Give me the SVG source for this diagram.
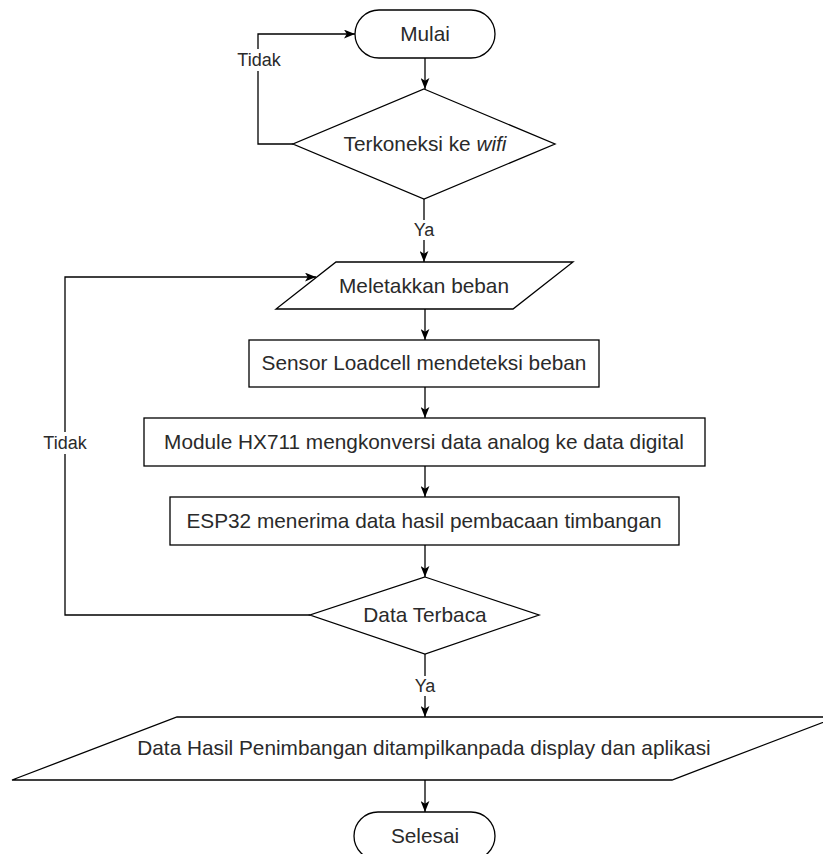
<svg xmlns="http://www.w3.org/2000/svg" width="823" height="854" viewBox="0 0 823 854">
  <defs>
    <marker id="arrow" markerUnits="userSpaceOnUse" viewBox="0 0 10 8" refX="10" refY="4" markerWidth="11" markerHeight="9" orient="auto">
      <path d="M0,0 L10,4 L0,8 L2.5,4 z" fill="#000"/>
    </marker>
    <style>
      .shape { fill: #fff; stroke: #000; stroke-width: 1.3; }
      .edge { fill: none; stroke: #000; stroke-width: 1.3; }
      .txt { font-family: "Liberation Sans", Arial, Helvetica, sans-serif; font-size: 20.8px; fill: #2a2a2a; text-anchor: middle; }
      .lbl { font-family: "Liberation Sans", Arial, Helvetica, sans-serif; font-size: 18px; fill: #2a2a2a; text-anchor: middle; }
      .lblbg { fill: #fff; }
    </style>
  </defs>
  <rect width="823" height="854" fill="#fff"/>

  <g id="connectors">
    <path class="edge" d="M425,58 L425,89" marker-end="url(#arrow)"/>
    <path class="edge" d="M293,144 L258,144 L258,34 L355,34" marker-end="url(#arrow)"/>
    <path class="edge" d="M424,199 L424,262" marker-end="url(#arrow)"/>
    <path class="edge" d="M425,309 L425,340" marker-end="url(#arrow)"/>
    <path class="edge" d="M425,387 L425,418" marker-end="url(#arrow)"/>
    <path class="edge" d="M425,466 L425,497" marker-end="url(#arrow)"/>
    <path class="edge" d="M425,545 L425,577" marker-end="url(#arrow)"/>
    <path class="edge" d="M310,615 L65,615 L65,277 L316,277" marker-end="url(#arrow)"/>
    <path class="edge" d="M425,654 L425,717" marker-end="url(#arrow)"/>
    <path class="edge" d="M425,780 L425,812" marker-end="url(#arrow)"/>
    <g id="edge-labels">
      <rect class="lblbg" x="236" y="49" width="46" height="22"/>
      <text class="lbl" x="259" y="66">Tidak</text>
      <rect class="lblbg" x="412" y="220" width="25" height="20"/>
      <text class="lbl" x="424" y="236">Ya</text>
      <rect class="lblbg" x="42" y="432" width="46" height="22"/>
      <text class="lbl" x="65" y="449">Tidak</text>
      <rect class="lblbg" x="413" y="676" width="25" height="20"/>
      <text class="lbl" x="425" y="692">Ya</text>
    </g>
  </g>

  <g id="mulai">
    <rect class="shape" x="355" y="10" width="140" height="48" rx="24" ry="24"/>
    <text class="txt" x="425" y="41">Mulai</text>
  </g>

  <g id="terkoneksi">
    <polygon class="shape" points="424,89 555,144 424,199 293,144"/>
    <text class="txt" x="425" y="151">Terkoneksi ke <tspan font-style="italic">wifi</tspan></text>
  </g>

  <g id="meletakkan">
    <polygon class="shape" points="336,262 573,262 513,309 276,309"/>
    <text class="txt" x="424" y="293">Meletakkan beban</text>
  </g>

  <g id="sensor">
    <rect class="shape" x="249" y="340" width="350" height="47"/>
    <text class="txt" x="424" y="370">Sensor Loadcell mendeteksi beban</text>
  </g>

  <g id="hx711">
    <rect class="shape" x="144" y="418" width="561" height="48"/>
    <text class="txt" x="424" y="449">Module HX711 mengkonversi data analog ke data digital</text>
  </g>

  <g id="esp32">
    <rect class="shape" x="170" y="497" width="509" height="48"/>
    <text class="txt" x="424" y="528">ESP32 menerima data hasil pembacaan timbangan</text>
  </g>

  <g id="data-terbaca">
    <polygon class="shape" points="425,577 539,615 425,654 310,615"/>
    <text class="txt" x="425" y="622">Data Terbaca</text>
  </g>

  <g id="tampil">
    <polygon class="shape" points="177,717 837,717 672,780 12,780"/>
    <text class="txt" x="424" y="755">Data Hasil Penimbangan ditampilkanpada display dan aplikasi</text>
  </g>

  <g id="selesai">
    <rect class="shape" x="354" y="812" width="141" height="48" rx="24" ry="24"/>
    <text class="txt" x="425" y="843">Selesai</text>
  </g>
</svg>
